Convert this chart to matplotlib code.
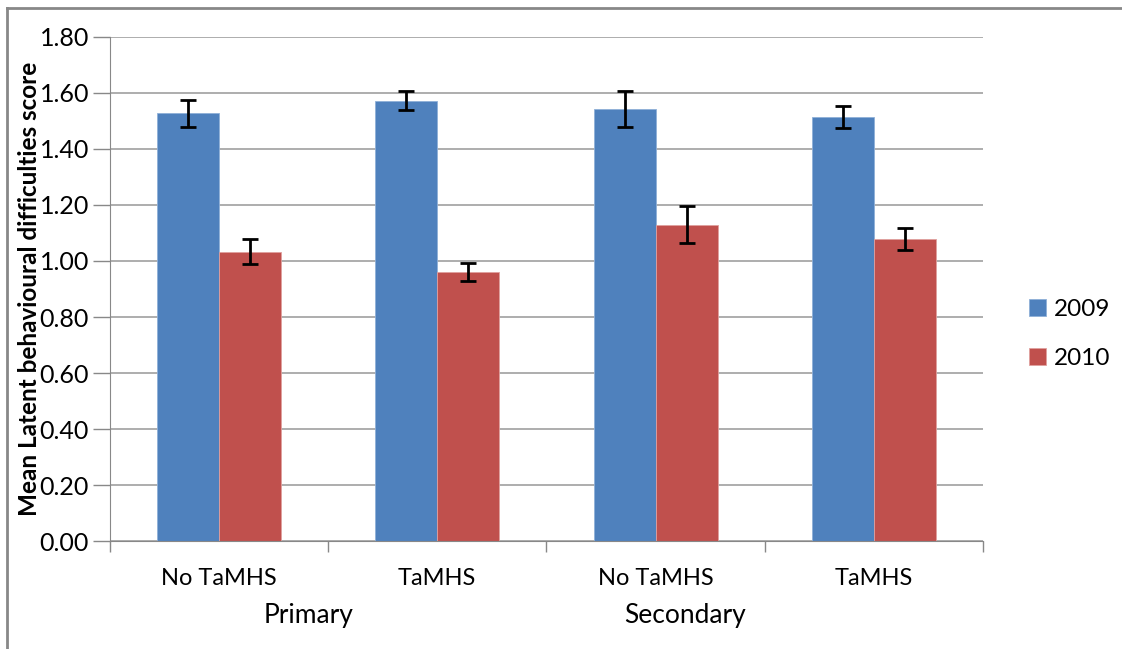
import matplotlib.pyplot as plt
import numpy as np
from matplotlib.lines import Line2D

plt.rcParams['font.family'] = ['Lato', 'DejaVu Sans']

categories = ["No TaMHS", "TaMHS", "No TaMHS", "TaMHS"]
groups = ["Primary", "Secondary"]
years = ["2009", "2010"]
vals_2009 = [1.527, 1.573, 1.542, 1.515]
vals_2010 = [1.033, 0.960, 1.130, 1.078]
err_2009 = [0.047, 0.033, 0.065, 0.040]
err_2010 = [0.045, 0.032, 0.065, 0.040]

blue = '#4f81bd'
red = '#c0504d'

fig = plt.figure(figsize=(11.22, 6.49), dpi=100)
ax = fig.add_axes([0.098, 0.1664, 0.778, 0.7766])

x = np.arange(len(categories))
w = 0.284
ax.bar(x - w / 2, vals_2009, w, color=blue, edgecolor='#8fb0d8', linewidth=0.6,
       label=years[0], zorder=2)
ax.bar(x + w / 2, vals_2010, w, color=red, edgecolor='#e0a09e', linewidth=0.6,
       label=years[1], zorder=2)
ax.errorbar(x - w / 2, vals_2009, yerr=err_2009, fmt='none', ecolor='black',
            elinewidth=2, capsize=6, capthick=2, zorder=3)
ax.errorbar(x + w / 2, vals_2010, yerr=err_2010, fmt='none', ecolor='black',
            elinewidth=2, capsize=6, capthick=2, zorder=3)

ax.set_xlim(-0.5, len(categories) - 0.5)
ax.set_ylim(0, 1.8)
ax.set_yticks(np.arange(0, 1.81, 0.2))
ax.set_yticklabels([f"{v:.2f}" for v in np.arange(0, 1.81, 0.2)], fontsize=18)
ax.yaxis.grid(True, color='#a0a0a0', linewidth=1.2, zorder=0)
ax.set_axisbelow(True)

# category boundary ticks, labels placed as text
ax.set_xticks(np.arange(-0.5, len(categories), 1))
ax.set_xticklabels([])
ax.tick_params(axis='x', length=8, color='#888888', width=1)
ax.tick_params(axis='y', length=12, color='#888888', width=1, pad=3)
for i, c in enumerate(categories):
    ax.text(i, -0.135, c, ha='center', va='center', fontsize=17)
group_pos = [0.408, 2.133]
for g, p in zip(groups, group_pos):
    ax.text(p, -0.265, g, ha='center', va='center', fontsize=19)

for s in ['top', 'right']:
    ax.spines[s].set_visible(False)
for s in ['left', 'bottom']:
    ax.spines[s].set_color('#888888')

ax.set_ylabel("Mean Latent behavioural difficulties score", fontsize=17.5,
              fontweight='bold', labelpad=-1)

ax.legend(loc='center left', bbox_to_anchor=(1.033, 0.41), frameon=False,
          fontsize=17.5, handlelength=0.7, handleheight=0.7, labelspacing=1.15,
          handletextpad=0.35, borderpad=0.2)

fig.add_artist(Line2D([0.0062, 1.0], [0.9877, 0.9877], transform=fig.transFigure,
                      color='#888888', linewidth=2))
fig.add_artist(Line2D([0.0062, 0.0062], [0.0, 0.9877], transform=fig.transFigure,
                      color='#888888', linewidth=2))

fig.savefig('out.png', dpi=100)
